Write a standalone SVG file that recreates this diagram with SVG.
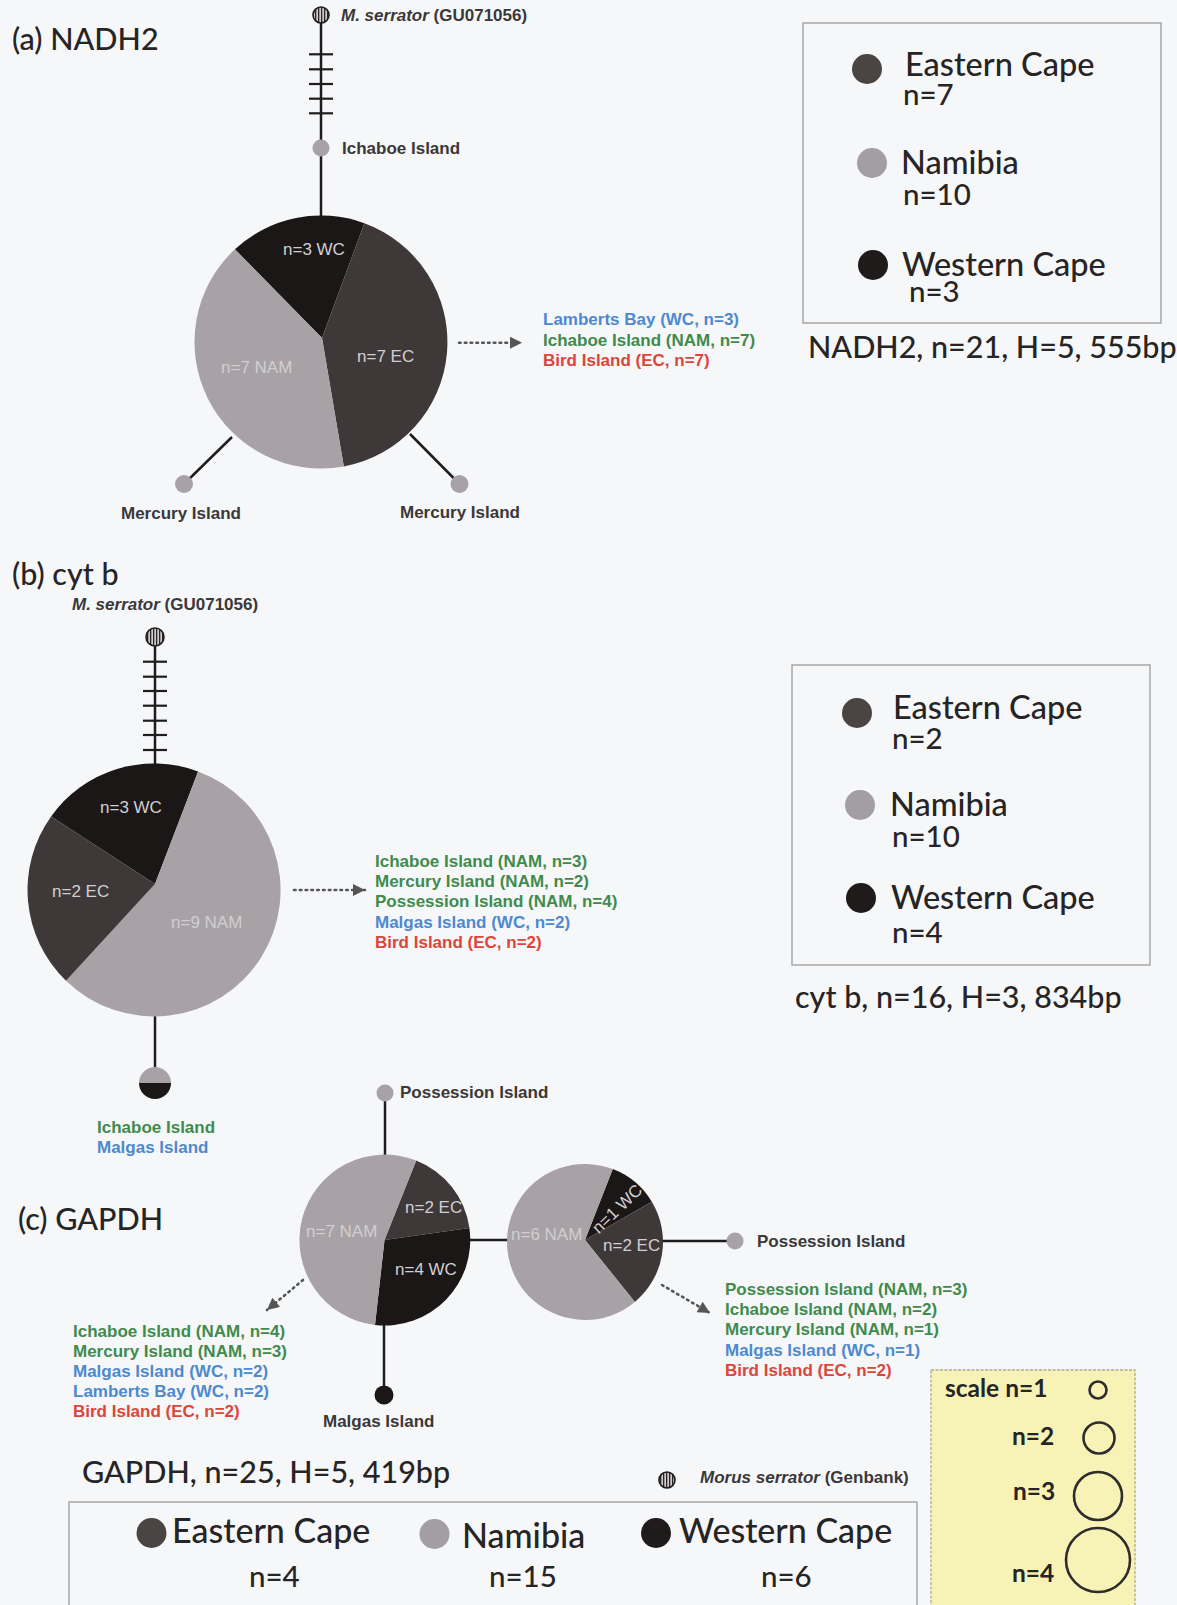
<svg xmlns="http://www.w3.org/2000/svg" width="1177" height="1605" viewBox="0 0 1177 1605">
<defs>
<style>
.bg{fill:#f6f7f9}
.cal{font-family:Lato,"Liberation Sans",sans-serif;fill:#262424;font-weight:500}
.bd{font-weight:bold;font-size:24.5px}
.ttl{font-size:30.5px}
.leg{font-size:32.5px}
.legn{font-size:29.5px}
.lab{font-family:"Liberation Sans",Arial,sans-serif;font-weight:bold;font-size:17px;fill:#3a3838}
.g{fill:#3f8b4d}.b{fill:#4d89cf}.r{fill:#dc4639}
.pl{font-family:"Liberation Sans",Arial,sans-serif;font-size:17px;fill:#d2ced2}
.edge{stroke:#1e1c1c;stroke-width:2.5;fill:none}
.dot{stroke:#555;stroke-width:2.6;fill:none;stroke-dasharray:1.6 4.2;stroke-linecap:round}
.nam{fill:#a8a1a5}.ec{fill:#3f3838}.wc{fill:#1b1717}
.lnam{fill:#a39ea1}.lec{fill:#4a4442}.lwc{fill:#1f1b1a}
.box{fill:none;stroke:#9c9c9c;stroke-width:1.3}
.out{fill:url(#hatch);stroke:#1e1c1c;stroke-width:1.6}
.sc{fill:none;stroke:#2e2c2c;stroke-width:2.6}
</style>
<pattern id="hatch" patternUnits="userSpaceOnUse" width="3" height="3">
<rect width="3" height="3" fill="#d0cccc"/>
<rect width="1.3" height="3" fill="#2a2626"/>
</pattern>
<marker id="ah" viewBox="0 0 10 10" refX="10" refY="5" markerUnits="userSpaceOnUse" markerWidth="14" markerHeight="12" orient="auto">
<path d="M0,0 L10,5 L0,10 Z" fill="#555"/>
</marker>
</defs>
<rect class="bg" x="0" y="0" width="1177" height="1605"/>

<!-- connectors -->
<g id="connectors">
<line class="edge" x1="321" y1="23" x2="321" y2="217"/>
<g stroke="#1e1c1c" stroke-width="2.2">
<line x1="309" y1="54.3" x2="333" y2="54.3"/>
<line x1="309" y1="69.3" x2="333" y2="69.3"/>
<line x1="309" y1="84" x2="333" y2="84"/>
<line x1="309" y1="98.7" x2="333" y2="98.7"/>
<line x1="309" y1="113.3" x2="333" y2="113.3"/>
</g>
<line class="edge" x1="232" y1="437" x2="184" y2="484"/>
<line class="edge" x1="410" y1="434" x2="459.5" y2="484"/>
<line class="dot" x1="459" y1="342.7" x2="522" y2="342.7" marker-end="url(#ah)"/>

<line class="edge" x1="155" y1="646" x2="155" y2="765"/>
<g stroke="#1e1c1c" stroke-width="2.2">
<line x1="143" y1="661.7" x2="167" y2="661.7"/>
<line x1="143" y1="676.7" x2="167" y2="676.7"/>
<line x1="143" y1="691" x2="167" y2="691"/>
<line x1="143" y1="705.7" x2="167" y2="705.7"/>
<line x1="143" y1="720.7" x2="167" y2="720.7"/>
<line x1="143" y1="735" x2="167" y2="735"/>
<line x1="143" y1="750" x2="167" y2="750"/>
</g>
<line class="edge" x1="155" y1="1015" x2="155" y2="1070"/>
<line class="dot" x1="294" y1="890" x2="365" y2="890" marker-end="url(#ah)"/>

<line class="edge" x1="385" y1="1093" x2="385" y2="1156"/>
<line class="edge" x1="384" y1="1324" x2="384" y2="1395"/>
<line class="edge" x1="469" y1="1240" x2="508" y2="1240"/>
<line class="edge" x1="662" y1="1241" x2="735" y2="1241"/>
<line class="dot" x1="303" y1="1280" x2="267" y2="1310" marker-end="url(#ah)"/>
<line class="dot" x1="662" y1="1285" x2="710" y2="1313" marker-end="url(#ah)"/>
</g>

<!-- panel (a) -->
<text class="cal ttl" x="12" y="50">(a) NADH2</text>
<g id="a-outgroup">
<circle class="out" cx="321" cy="15" r="8"/>
<text class="lab" x="341" y="21"><tspan font-style="italic">M. serrator</tspan> (GU071056)</text>
</g>
<g id="a-ichaboe">
<circle class="nam" cx="321" cy="148" r="8.5"/>
<text class="lab" x="342" y="154">Ichaboe Island</text>
</g>
<g id="a-main">
<path class="wc" d="M322,338 L234.9,249.3 A126.5,126.5 0 0 1 364.4,223.2 Z"/>
<path class="ec" d="M322,338 L364.4,223.2 A126.5,126.5 0 0 1 343.8,466.4 Z"/>
<path class="nam" d="M322,338 L343.8,466.4 A126.5,126.5 0 0 1 234.9,249.3 Z"/>
<text class="pl" x="283" y="255">n=3 WC</text>
<text class="pl" x="357" y="362">n=7 EC</text>
<text class="pl" x="221" y="373">n=7 NAM</text>
</g>
<g id="a-merc1">
<circle class="nam" cx="184" cy="484" r="9"/>
<text class="lab" x="121" y="519">Mercury Island</text>
</g>
<g id="a-merc2">
<circle class="nam" cx="459.5" cy="484" r="9"/>
<text class="lab" x="400" y="518">Mercury Island</text>
</g>
<g id="a-list">
<text class="lab b" x="543" y="325">Lamberts Bay (WC, n=3)</text>
<text class="lab g" x="543" y="345.5">Ichaboe Island (NAM, n=7)</text>
<text class="lab r" x="543" y="366">Bird Island (EC, n=7)</text>
</g>
<g id="a-legend">
<rect class="box" x="803" y="23" width="358" height="300"/>
<circle class="lec" cx="867" cy="69" r="15"/>
<text class="cal leg" x="905" y="76">Eastern Cape</text>
<text class="cal legn" x="903" y="105">n=7</text>
<circle class="lnam" cx="872" cy="163" r="15"/>
<text class="cal leg" x="901" y="174">Namibia</text>
<text class="cal legn" x="903" y="205">n=10</text>
<circle class="lwc" cx="873" cy="265" r="15"/>
<text class="cal leg" x="902" y="276">Western Cape</text>
<text class="cal legn" x="909" y="302">n=3</text>
</g>
<text class="cal ttl" x="808" y="358">NADH2, n=21, H=5, 555bp</text>

<!-- panel (b) -->
<text class="cal ttl" x="12" y="585">(b) cyt b</text>
<g id="b-outgroup">
<circle class="out" cx="155" cy="637" r="9"/>
<text class="lab" x="72" y="610"><tspan font-style="italic">M. serrator</tspan> (GU071056)</text>
</g>
<g id="b-main">
<path class="wc" d="M155,884 L51.1,816.4 A126.5,126.5 0 0 1 198.1,771.4 Z"/>
<path class="nam" d="M155,884 L198.1,771.4 A126.5,126.5 0 1 1 66,980.8 Z"/>
<path class="ec" d="M155,884 L66,980.8 A126.5,126.5 0 0 1 51.1,816.4 Z"/>
<text class="pl" x="100" y="813">n=3 WC</text>
<text class="pl" x="52" y="897">n=2 EC</text>
<text class="pl" x="171" y="928">n=9 NAM</text>
</g>
<g id="b-small">
<path class="nam" d="M139,1083 A16,16 0 0 1 171,1083 Z"/>
<path class="wc" d="M139,1083 A16,16 0 0 0 171,1083 Z"/>
<text class="lab g" x="97" y="1133">Ichaboe Island</text>
<text class="lab b" x="97" y="1153">Malgas Island</text>
</g>
<g id="b-list">
<text class="lab g" x="375" y="866.7">Ichaboe Island (NAM, n=3)</text>
<text class="lab g" x="375" y="887">Mercury Island (NAM, n=2)</text>
<text class="lab g" x="375" y="907.3">Possession Island (NAM, n=4)</text>
<text class="lab b" x="375" y="928">Malgas Island (WC, n=2)</text>
<text class="lab r" x="375" y="948.3">Bird Island (EC, n=2)</text>
</g>
<g id="b-legend">
<rect class="box" x="792" y="665" width="358" height="300"/>
<circle class="lec" cx="857" cy="713" r="15"/>
<text class="cal leg" x="893" y="719">Eastern Cape</text>
<text class="cal legn" x="892" y="749">n=2</text>
<circle class="lnam" cx="860" cy="805" r="15"/>
<text class="cal leg" x="890" y="816">Namibia</text>
<text class="cal legn" x="892" y="847">n=10</text>
<circle class="lwc" cx="861" cy="898" r="15"/>
<text class="cal leg" x="891" y="909">Western Cape</text>
<text class="cal legn" x="892" y="943">n=4</text>
</g>
<text class="cal ttl" x="795" y="1008">cyt b, n=16, H=3, 834bp</text>

<!-- panel (c) -->
<text class="cal ttl" x="18" y="1230">(c) GAPDH</text>
<g id="c-poss1">
<circle class="nam" cx="385" cy="1093" r="8.5"/>
<text class="lab" x="400" y="1098">Possession Island</text>
</g>
<g id="c-main1">
<path class="ec" d="M384.5,1240 L416.2,1160.5 A85.5,85.5 0 0 1 469.4,1228.1 Z"/>
<path class="wc" d="M384.5,1240 L469.4,1228.1 A85.5,85.5 0 0 1 375,1325 Z"/>
<path class="nam" d="M384.5,1240 L375,1325 A85.5,85.5 0 1 1 416.2,1160.5 Z"/>
<text class="pl" x="306" y="1237">n=7 NAM</text>
<text class="pl" x="405" y="1213">n=2 EC</text>
<text class="pl" x="395" y="1275">n=4 WC</text>
</g>
<g id="c-main2">
<path class="wc" d="M585,1240 L612.8,1169.1 A78,78 0 0 1 651.8,1201.7 Z"/>
<path class="ec" d="M585,1240 L651.8,1201.7 A78,78 0 0 1 634.9,1301.9 Z"/>
<path class="nam" d="M585,1240 L634.9,1301.9 A78,78 0 1 1 612.8,1169.1 Z"/>
<text class="pl" x="511" y="1240">n=6 NAM</text>
<text class="pl" x="603" y="1251">n=2 EC</text>
<text class="pl" font-size="16" text-anchor="middle" transform="translate(621,1213) rotate(-44)">n=1 WC</text>
</g>
<g id="c-poss2">
<circle class="nam" cx="735" cy="1241" r="8.5"/>
<text class="lab" x="757" y="1247">Possession Island</text>
</g>
<g id="c-malgas">
<circle class="wc" cx="384" cy="1395" r="9.5"/>
<text class="lab" x="323" y="1427">Malgas Island</text>
</g>
<g id="c-list1">
<text class="lab g" x="73" y="1336.7">Ichaboe Island (NAM, n=4)</text>
<text class="lab g" x="73" y="1356.7">Mercury Island (NAM, n=3)</text>
<text class="lab b" x="73" y="1376.7">Malgas Island (WC, n=2)</text>
<text class="lab b" x="73" y="1396.7">Lamberts Bay (WC, n=2)</text>
<text class="lab r" x="73" y="1416.7">Bird Island (EC, n=2)</text>
</g>
<g id="c-list2">
<text class="lab g" x="725" y="1295">Possession Island (NAM, n=3)</text>
<text class="lab g" x="725" y="1315">Ichaboe Island (NAM, n=2)</text>
<text class="lab g" x="725" y="1335">Mercury Island (NAM, n=1)</text>
<text class="lab b" x="725" y="1356">Malgas Island (WC, n=1)</text>
<text class="lab r" x="725" y="1376">Bird Island (EC, n=2)</text>
</g>
<text class="cal ttl" x="82" y="1483">GAPDH, n=25, H=5, 419bp</text>
<g id="c-outgroup-key">
<circle class="out" cx="667" cy="1480" r="8"/>
<text class="lab" font-size="16.5" x="700" y="1483"><tspan font-style="italic">Morus serrator</tspan> (Genbank)</text>
</g>
<g id="c-legend">
<rect class="box" x="69" y="1502" width="848" height="120"/>
<circle class="lec" cx="151.5" cy="1533" r="15"/>
<text class="cal" font-size="34" x="172" y="1543">Eastern Cape</text>
<text class="cal legn" x="249" y="1587">n=4</text>
<circle class="lnam" cx="434.5" cy="1534" r="15"/>
<text class="cal" font-size="34" x="462" y="1548">Namibia</text>
<text class="cal legn" x="489" y="1587">n=15</text>
<circle class="lwc" cx="656" cy="1533" r="15"/>
<text class="cal" font-size="34" x="679" y="1543">Western Cape</text>
<text class="cal legn" x="761" y="1587">n=6</text>
</g>
<g id="scale">
<rect x="931" y="1370" width="204" height="250" fill="#f7f3b6" stroke="#aeab8a" stroke-width="1.3" stroke-dasharray="3 1.5"/>
<text class="cal bd" x="945" y="1397">scale n=1</text>
<circle class="sc" cx="1098" cy="1390" r="8.5"/>
<text class="cal bd" x="1012" y="1445">n=2</text>
<circle class="sc" cx="1099" cy="1438" r="15.5"/>
<text class="cal bd" x="1013" y="1500">n=3</text>
<circle class="sc" cx="1098" cy="1496" r="24"/>
<text class="cal bd" x="1012" y="1582">n=4</text>
<circle class="sc" cx="1098" cy="1560" r="32"/>
</g>
</svg>
